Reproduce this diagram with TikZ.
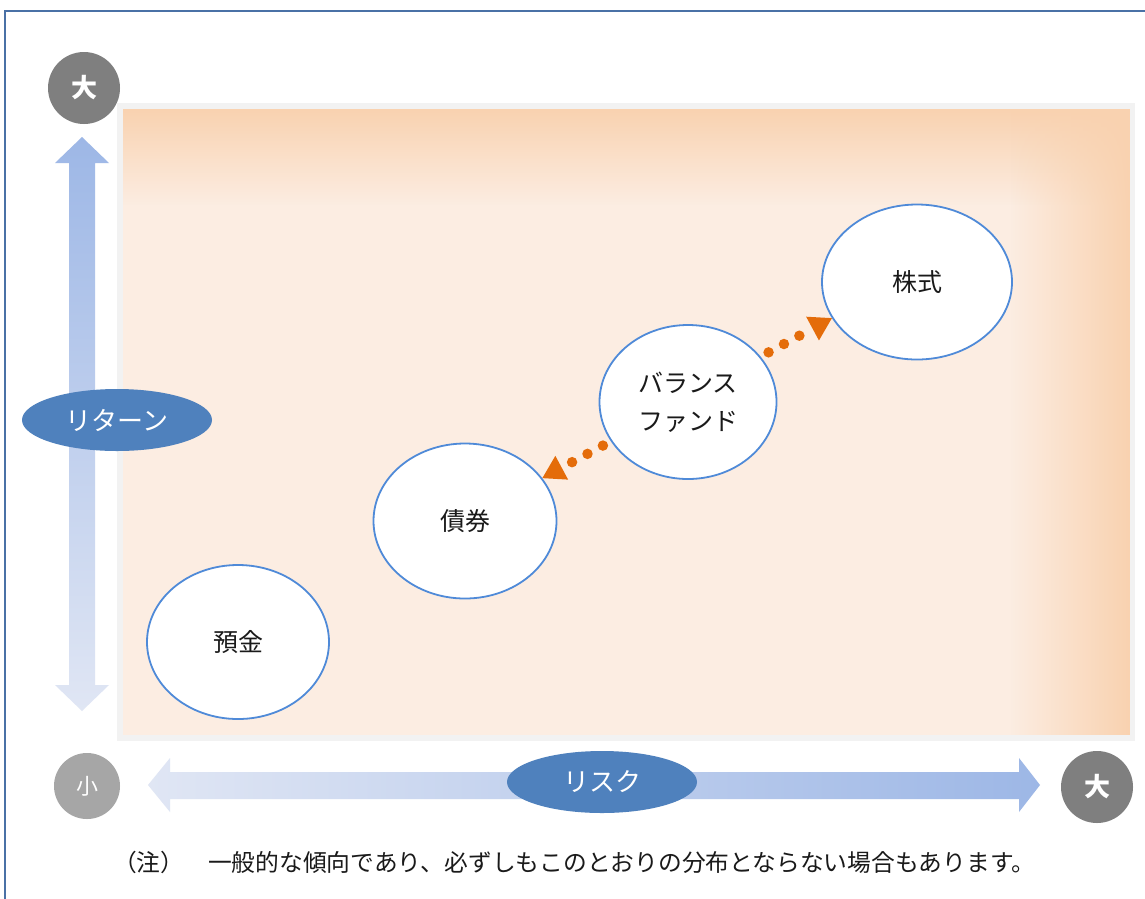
\documentclass[tikz,border=0pt]{standalone}
\usepackage{fontspec}
\setmainfont{Noto Sans CJK JP}
\usetikzlibrary{shapes.geometric,arrows.meta,fadings}

\definecolor{frameblue}{HTML}{4A71A6}
\definecolor{panelbase}{HTML}{FCEDE2}
\definecolor{paneldark}{HTML}{F9D2B0}
\definecolor{panelrim}{HTML}{F2F2F2}
\definecolor{bubbleline}{HTML}{4F8AD8}
\definecolor{labelblue}{HTML}{4F81BD}
\definecolor{arrowdark}{HTML}{9DB7E6}
\definecolor{arrowlight}{HTML}{E0E6F4}
\definecolor{dotorange}{HTML}{E46C0A}
\definecolor{bigdot}{HTML}{7F7F7F}
\definecolor{smalldot}{HTML}{A6A6A6}
\definecolor{textblack}{HTML}{1A1A1A}

\tikzfading[name=fadetop, top color=transparent!0, bottom color=transparent!100]
\tikzfading[name=faderight, right color=transparent!0, left color=transparent!100]

\begin{document}
\begin{tikzpicture}[x=1pt,y=-1pt,
  bubble/.style={ellipse, draw=bubbleline, line width=1.8pt, fill=white,
    inner sep=0pt, text=textblack, align=center,
    font=\fontsize{25}{38}\selectfont},
  axislabel/.style={ellipse, fill=labelblue, text=white, inner sep=0pt,
    minimum width=190pt, minimum height=62pt,
    font=\fontsize{26}{30}\selectfont},
  endmark/.style={circle, text=white, inner sep=0pt},
  dotline/.style={dotorange, line width=10.5pt, line cap=round,
    dash pattern=on 0pt off 17.5pt, shorten <=9pt,
    -{Triangle[length=22pt,width=27pt,line width=0pt]}},
  axisarrow/.style={draw=none}
]
\useasboundingbox (0,0) rectangle (1145,898);
\fill[white] (0,0) rectangle (1145,898);
\draw[frameblue, line width=2pt] (5,910) -- (5,11) -- (1160,11);

% panel
\fill[panelrim] (117,103) rectangle (1135,741);
\fill[panelbase] (123,109) rectangle (1130,735);
\fill[paneldark, path fading=fadetop] (123,109) rectangle (1130,205);
\fill[paneldark, path fading=faderight] (1010,109) rectangle (1130,735);

% axis arrows
\shade[axisarrow, top color=arrowdark, bottom color=arrowlight]
  (82,137) -- (109,163) -- (95,163) -- (95,685) -- (109,685) -- (82,711)
  -- (55,685) -- (69,685) -- (69,163) -- (55,163) -- cycle;
\shade[axisarrow, left color=arrowlight, right color=arrowdark]
  (148,785) -- (170,758) -- (170,772) -- (1019,772) -- (1019,758) -- (1040,785)
  -- (1019,812) -- (1019,799) -- (170,799) -- (170,812) -- cycle;

% axis labels
\node[axislabel] (ret) at (117,420) {リターン};
\node[axislabel] (risk) at (602,782) {リスク};

% end marks
\node[endmark, fill=bigdot, minimum size=72pt, font=\fontsize{26}{30}\selectfont\bfseries] (retmax) at (84,88) {大};
\node[endmark, fill=smalldot, minimum size=66pt, font=\fontsize{22}{26}\selectfont] (riskmin) at (87,786) {小};
\node[endmark, fill=bigdot, minimum size=72pt, font=\fontsize{26}{30}\selectfont\bfseries] (riskmax) at (1097,787) {大};

% bubbles
\node[bubble, minimum width=182pt, minimum height=154pt] (dep) at (238,642) {預金};
\node[bubble, minimum width=183pt, minimum height=155pt] (bond) at (465,521) {債券};
\node[bubble, minimum width=177pt, minimum height=154pt] (bal) at (688,402) {バランス\\ファンド};
\node[bubble, minimum width=190pt, minimum height=155pt] (stock) at (917,282) {株式};

% dotted arrows
\draw[dotline] (bal.207) -- (bond.29);
\draw[dotline] (bal.32) -- (stock.203);

% note
\node[anchor=west, inner sep=0pt, text=textblack, font=\fontsize{23.75}{28}\selectfont] (note) at (113,862)
  {（注）　一般的な傾向であり、必ずしもこのとおりの分布とならない場合もあります。};
\end{tikzpicture}
\end{document}
